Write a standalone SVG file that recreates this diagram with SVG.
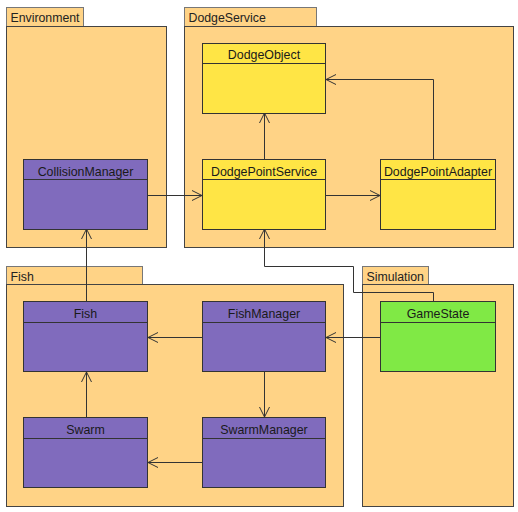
<svg xmlns="http://www.w3.org/2000/svg" width="518" height="512" viewBox="0 0 518 512">
<style>
.pkg{fill:#FFD386;stroke:#444;stroke-width:1}
.tab{fill:#FFD386;stroke:#777;stroke-width:1}
.pt{font-family:"Liberation Sans",Arial,sans-serif;font-size:12.3px;fill:#222}
.cls{stroke:#333;stroke-width:1}
.purple{fill:#806BBD}
.yellow{fill:#FFE545}
.green{fill:#80E945}
.ct{font-family:"Liberation Sans",Arial,sans-serif;font-size:12.4px;fill:#1a1a1a;text-anchor:middle}
.conn{fill:none;stroke:#333;stroke-width:1}
</style>
<defs>
<marker id="open" markerWidth="12" markerHeight="12" refX="11" refY="6" orient="auto" markerUnits="userSpaceOnUse">
<path d="M1,1 L11,6 L1,11" fill="none" stroke="#333" stroke-width="1"/>
</marker>
</defs>
<rect width="518" height="512" fill="#fff"/>
<g id="pkg-environment">
<rect class="tab" x="6.5" y="7.5" width="77" height="19"/>
<rect class="pkg" x="6.5" y="26.5" width="160" height="221"/>
<text class="pt" x="10.5" y="21.5">Environment</text>
</g>
<g id="pkg-dodgeservice">
<rect class="tab" x="184.5" y="7.5" width="132" height="19"/>
<rect class="pkg" x="184.5" y="26.5" width="329" height="221"/>
<text class="pt" x="188.5" y="21.5">DodgeService</text>
</g>
<g id="pkg-fish">
<rect class="tab" x="6.5" y="266.5" width="136" height="18"/>
<rect class="pkg" x="6.5" y="284.5" width="337" height="222"/>
<text class="pt" x="10.5" y="280.5">Fish</text>
</g>
<g id="pkg-simulation">
<rect class="tab" x="362.5" y="266.5" width="66" height="18"/>
<rect class="pkg" x="362.5" y="284.5" width="151" height="222"/>
<text class="pt" x="366.5" y="280.5">Simulation</text>
</g>
<g id="connectors">
<path class="conn" d="M148,195.5 H202" marker-end="url(#open)"/>
<path class="conn" d="M86.5,302 V229" marker-end="url(#open)"/>
<path class="conn" d="M264.5,159 V113" marker-end="url(#open)"/>
<path class="conn" d="M326,195.5 H380" marker-end="url(#open)"/>
<path class="conn" d="M433.5,159 V79.5 H326" marker-end="url(#open)"/>
<path class="conn" d="M433.5,302 V292.5 H353.5 V266.5 H264.5 V229" marker-end="url(#open)"/>
<path class="conn" d="M380,337.5 H326" marker-end="url(#open)"/>
<path class="conn" d="M202,337.5 H148" marker-end="url(#open)"/>
<path class="conn" d="M264.5,372 V417" marker-end="url(#open)"/>
<path class="conn" d="M86.5,417 V372" marker-end="url(#open)"/>
<path class="conn" d="M202,462.5 H148" marker-end="url(#open)"/>
</g>
<g id="CollisionManager">
<rect class="cls purple" x="23.5" y="159.5" width="124" height="70"/>
<line class="cls" x1="23.5" y1="179.5" x2="147.5" y2="179.5"/>
<text class="ct" x="85.5" y="175.5">CollisionManager</text>
</g>
<g id="DodgeObject">
<rect class="cls yellow" x="202.5" y="43.5" width="123" height="70"/>
<line class="cls" x1="202.5" y1="63.5" x2="325.5" y2="63.5"/>
<text class="ct" x="264" y="59">DodgeObject</text>
</g>
<g id="DodgePointService">
<rect class="cls yellow" x="202.5" y="159.5" width="123" height="70"/>
<line class="cls" x1="202.5" y1="179.5" x2="325.5" y2="179.5"/>
<text class="ct" x="264" y="175.5">DodgePointService</text>
</g>
<g id="DodgePointAdapter">
<rect class="cls yellow" x="380.5" y="159.5" width="115" height="70"/>
<line class="cls" x1="380.5" y1="179.5" x2="495.5" y2="179.5"/>
<text class="ct" x="438" y="175.5">DodgePointAdapter</text>
</g>
<g id="Fish">
<rect class="cls purple" x="23.5" y="301.5" width="124" height="70"/>
<line class="cls" x1="23.5" y1="322.5" x2="147.5" y2="322.5"/>
<text class="ct" x="85.5" y="318">Fish</text>
</g>
<g id="FishManager">
<rect class="cls purple" x="202.5" y="301.5" width="123" height="70"/>
<line class="cls" x1="202.5" y1="322.5" x2="325.5" y2="322.5"/>
<text class="ct" x="264" y="318">FishManager</text>
</g>
<g id="Swarm">
<rect class="cls purple" x="23.5" y="417.5" width="124" height="70"/>
<line class="cls" x1="23.5" y1="438.5" x2="147.5" y2="438.5"/>
<text class="ct" x="85.5" y="434">Swarm</text>
</g>
<g id="SwarmManager">
<rect class="cls purple" x="202.5" y="417.5" width="123" height="70"/>
<line class="cls" x1="202.5" y1="438.5" x2="325.5" y2="438.5"/>
<text class="ct" x="264" y="434">SwarmManager</text>
</g>
<g id="GameState">
<rect class="cls green" x="380.5" y="301.5" width="115" height="70"/>
<line class="cls" x1="380.5" y1="322.5" x2="495.5" y2="322.5"/>
<text class="ct" x="438" y="318">GameState</text>
</g>
</svg>
